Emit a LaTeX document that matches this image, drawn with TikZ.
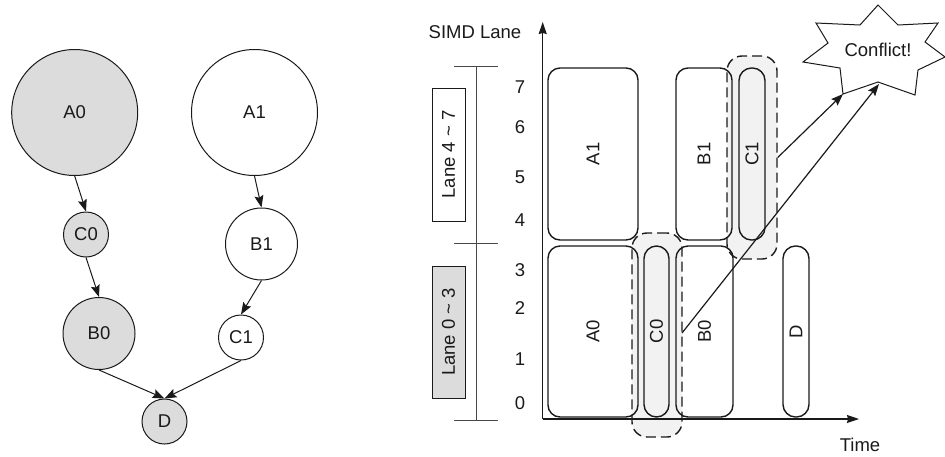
\documentclass[tikz,border=0pt]{standalone}
\usepackage{fontspec}
\setmainfont{Liberation Sans}
\usetikzlibrary{arrows.meta}
\definecolor{nodegray}{HTML}{DCDCDC}
\definecolor{regiongray}{HTML}{F2F2F2}
\definecolor{ink}{HTML}{1A1A1A}
\begin{document}
\begin{tikzpicture}[x=1pt,y=-1pt,
  every node/.style={font=\fontsize{18.5}{22}\selectfont, text=ink},
  gnode/.style={circle, draw=ink, line width=1pt, inner sep=0pt},
  gfill/.style={gnode, fill=nodegray},
  garrow/.style={draw=ink, line width=1pt, -{Stealth[length=12pt,width=9pt,inset=2pt]}},
  lanebox/.style={draw=ink, line width=1.4pt, rounded corners=12pt, rotate=90, inner sep=0pt},
  pill/.style={draw=ink, line width=1.4pt, rounded corners=12.5pt, rotate=90, inner sep=0pt},
  region/.style={draw=ink, line width=1.4pt, dash pattern=on 10pt off 5pt, rounded corners=15pt, inner sep=0pt},
  axis/.style={draw=ink, line width=1.1pt, -{Stealth[length=12pt,width=8pt,inset=1pt]}},
  legendbox/.style={draw=ink, line width=1pt, rotate=90, inner sep=0pt, minimum width=133pt, minimum height=33pt},
  scalebar/.style={draw=ink!80, line width=1pt}
]
\useasboundingbox (0,0) rectangle (945,456);

% ---------- left: dependency graph ----------
\node[gfill, minimum size=126pt] (A0) at (74.7,112.5) {A0};
\node[gnode, minimum size=126pt] (A1) at (254.5,112.5) {A1};
\node[gfill, minimum size=45pt] (C0) at (86,234.5) {C0};
\node[gfill, minimum size=72pt] (B0) at (99,333.5) {B0};
\node[gnode, minimum size=72pt] (B1) at (261.5,244) {B1};
\node[gnode, minimum size=45pt] (C1) at (241,337.5) {C1};
\node[gfill, minimum size=45pt] (D) at (164.5,421.5) {D};
\draw[garrow] (A0.south) -- (C0.north);
\draw[garrow] (C0.south) -- (B0.north);
\draw[garrow] (B0.south) -- (D.north);
\draw[garrow] (A1.south) -- (B1.north);
\draw[garrow] (B1.south) -- (C1.north);
\draw[garrow] (C1.south) -- (D.north);

% ---------- right: schedule ----------
% dashed regions (fill)
\node[region, draw=none, fill=regiongray, minimum width=50pt, minimum height=204pt] (C0rf) at (657,335) {};
\node[region, draw=none, fill=regiongray, minimum width=50pt, minimum height=203pt] (C1rf) at (752,157.5) {};

% axes
\coordinate (O) at (542.7,419);
\coordinate (Ytop) at (542.7,22);
\coordinate (Xend) at (859,419);
\draw[axis] (O) -- (Ytop);
\draw[axis] (O) -- (Xend);
\node (ylab) at (475,32) {SIMD Lane};
\node (xlab) at (860,445) {Time};

% boxes
\node[lanebox, minimum width=172pt, minimum height=90pt] (bA1) at (593,154) {A1};
\node[lanebox, minimum width=171pt, minimum height=90pt] (bA0) at (593,331.5) {A0};
\node[lanebox, minimum width=172pt, minimum height=56pt] (bB1) at (704,154) {B1};
\node[lanebox, minimum width=171pt, minimum height=57pt] (bB0) at (704.5,331.5) {B0};
\node[pill, minimum width=171pt, minimum height=25pt] (bC0) at (656.5,331.5) {C0};
\node[pill, minimum width=172pt, minimum height=26pt] (bC1) at (752,154) {C1};
\node[pill, minimum width=171pt, minimum height=26pt] (bD) at (796,331.5) {D};

% dashed region outlines
\node[region, minimum width=50pt, minimum height=204pt] (C0r) at (657,335) {};
\node[region, minimum width=50pt, minimum height=203pt] (C1r) at (752,157.5) {};

% scale bar
\coordinate (s7) at (476,66);
\coordinate (s4) at (476,243);
\coordinate (s0) at (476,420);
\draw[scalebar] (s7) -- (s0);
\draw[scalebar] (454,66) -- (498,66);
\draw[scalebar] (454,243) -- (498,243);
\draw[scalebar] (454,420) -- (498,420);
\node[legendbox, fill=white] (L47) at (448.5,154.5) {Lane 4 \textasciitilde{} 7};
\node[legendbox, fill=nodegray, minimum width=132pt] (L03) at (448.5,332) {Lane 0 \textasciitilde{} 3};

% lane numbers
\node (n7) at (520,87) {7};
\node (n6) at (520,127) {6};
\node (n5) at (520,177) {5};
\node (n4) at (520,220) {4};
\node (n3) at (520,270) {3};
\node (n2) at (520,308) {2};
\node (n1) at (520,359) {1};
\node (n0) at (520,403) {0};

% conflict star
\coordinate (sTop) at (878,5);
\coordinate (sBL) at (843,94);
\coordinate (sIn) at (879,84);
\draw[draw=ink, line width=1pt, fill=white]
  (sTop) -- (898,25) -- (938,23) -- (925,42) -- (945,57) -- (918,70) -- (915,95)
  -- (878,82) -- (sBL) -- (840,68) -- (803,62) -- (828,43) -- (816,23) -- (860,25) -- cycle;
\node (conf) at (878,50) {Conflict!};

% conflict arrows
\draw[garrow, line width=1.2pt] (C1r.east) -- (sBL);
\draw[garrow, line width=1.2pt] (682,333) -- (sIn);
\end{tikzpicture}
\end{document}
